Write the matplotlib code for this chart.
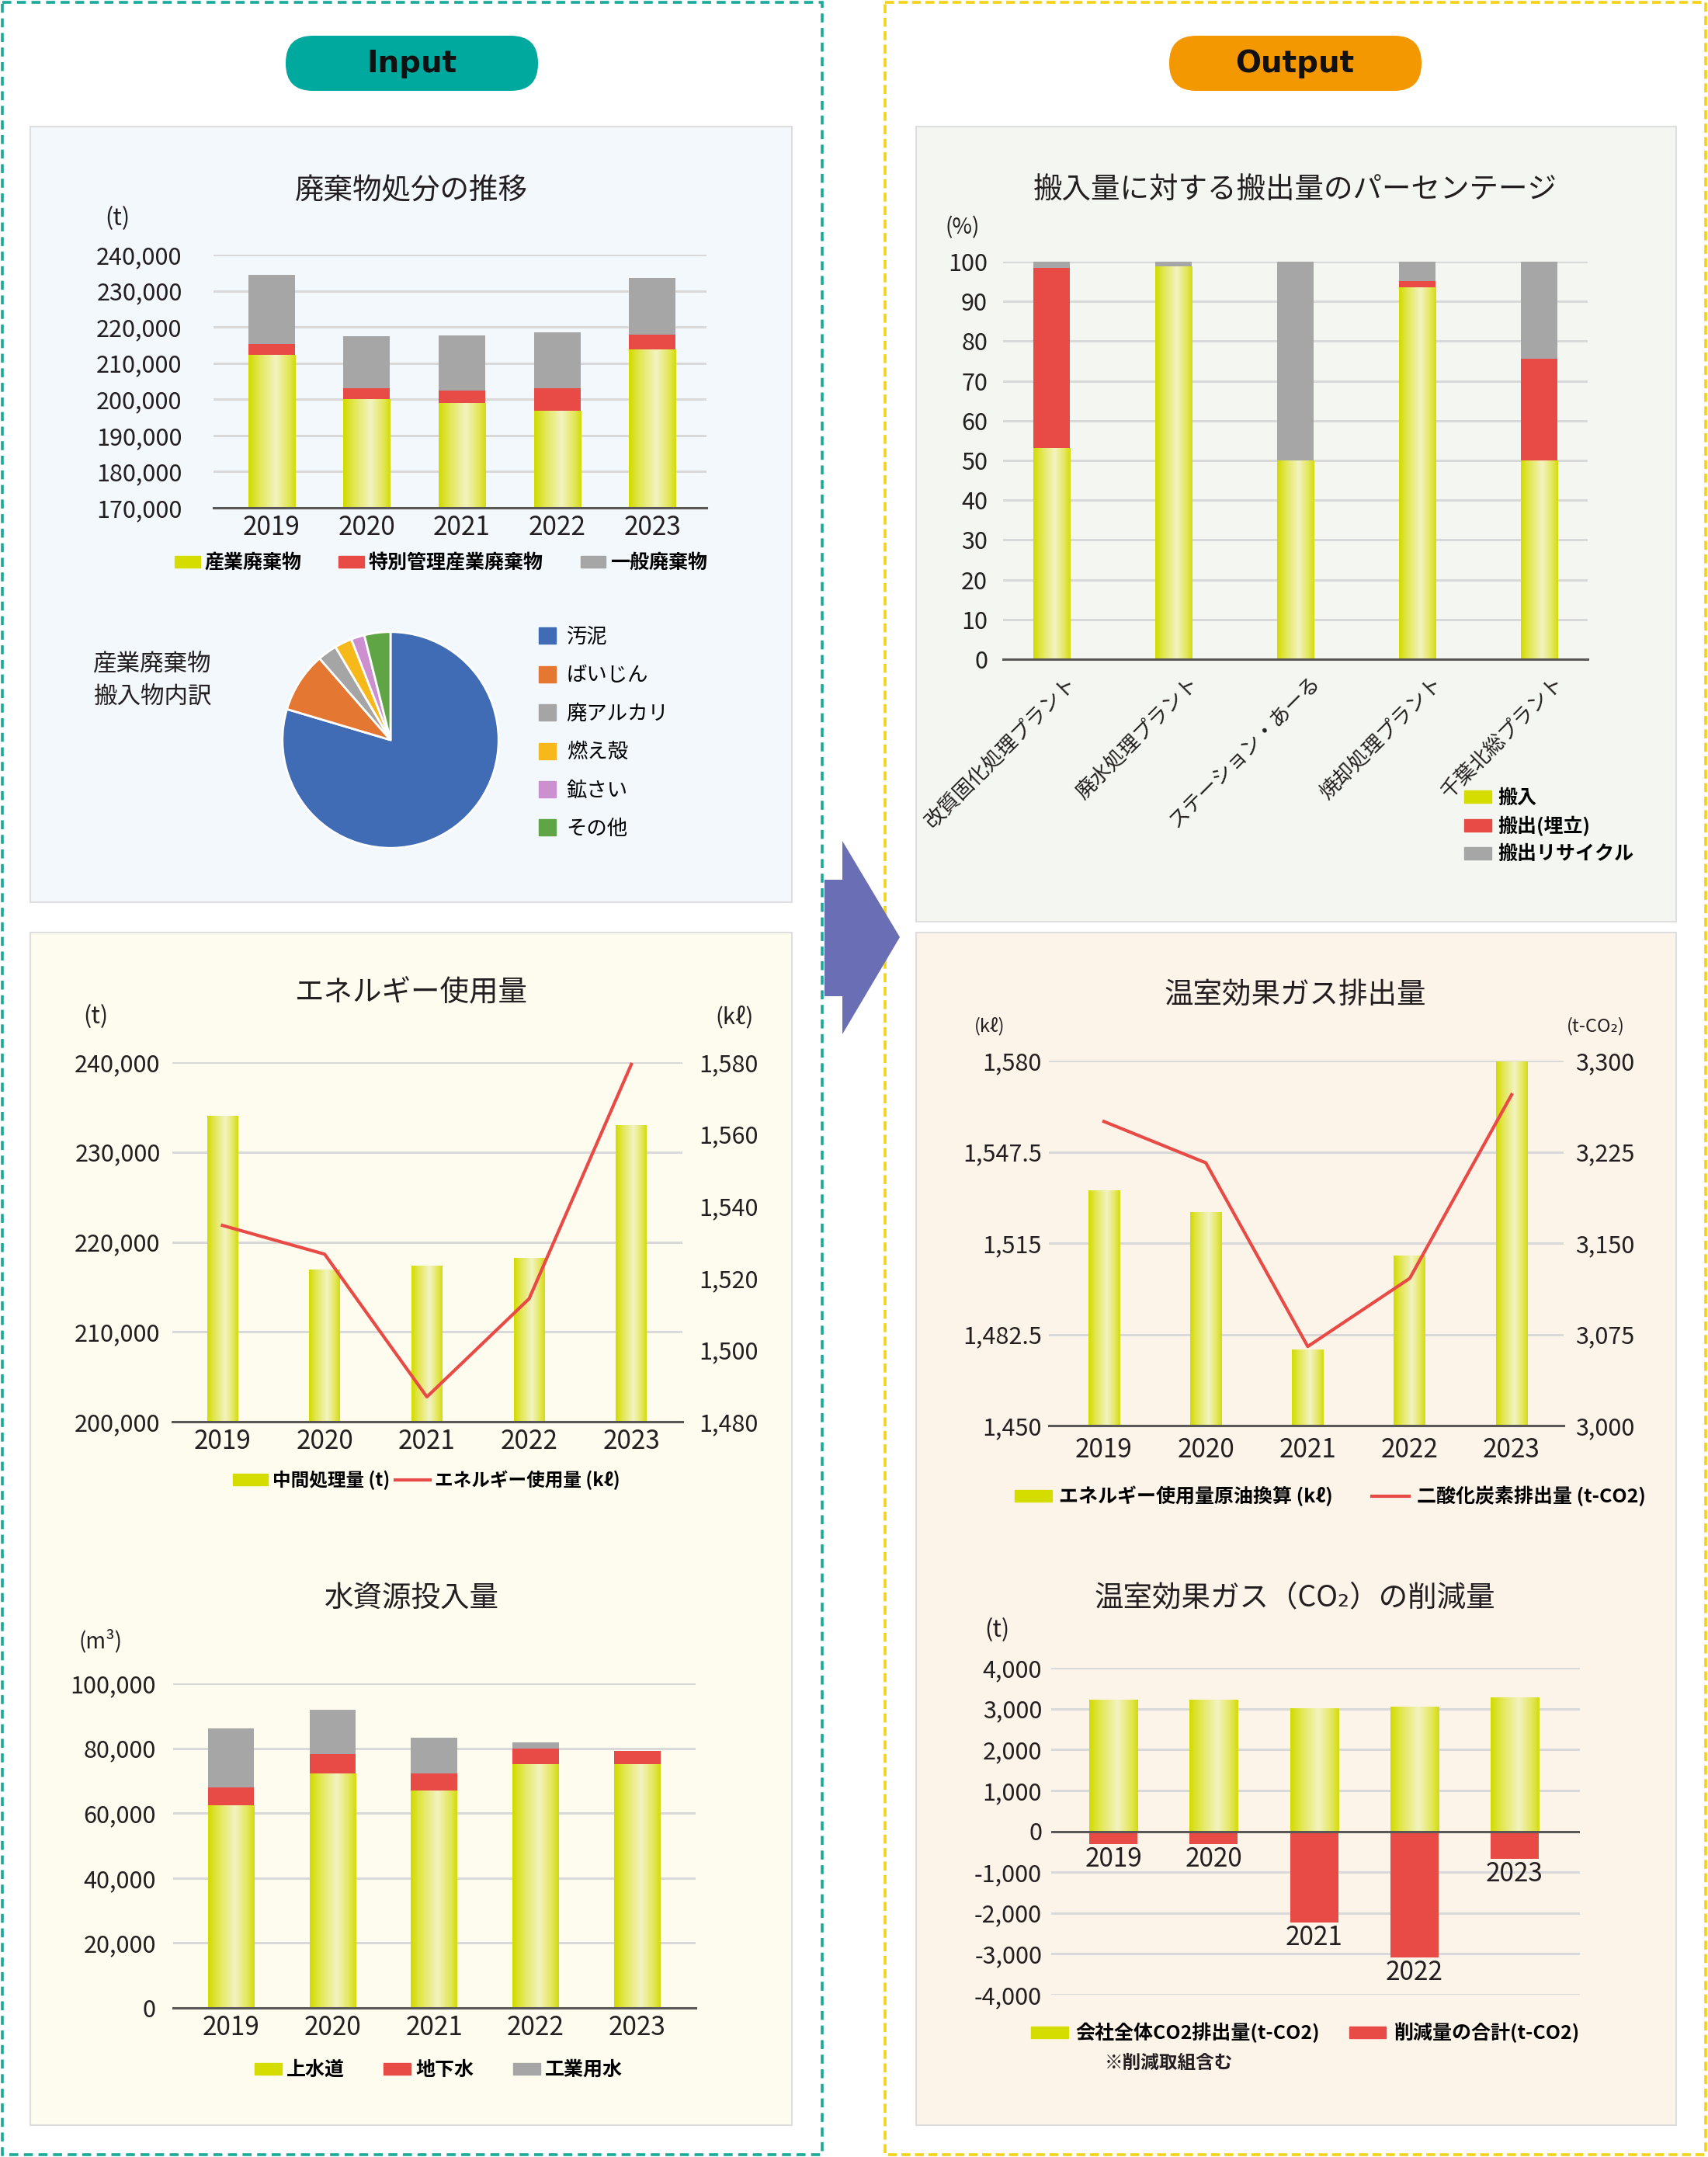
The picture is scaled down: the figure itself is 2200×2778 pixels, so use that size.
import numpy as np
import matplotlib
matplotlib.use('Agg')
import matplotlib.pyplot as plt
from matplotlib.patches import Rectangle, FancyBboxPatch, Polygon, Patch
from matplotlib.lines import Line2D
from matplotlib.colors import LinearSegmentedColormap
import matplotlib.transforms as mtransforms

plt.rcParams['font.family'] = ['Noto Sans CJK JP', 'DejaVu Sans']
plt.rcParams['axes.unicode_minus'] = False

# ---------------- data ----------------
years = ['2019', '2020', '2021', '2022', '2023']

# 廃棄物処分の推移 (t)
waste_industrial = [212100, 200000, 198800, 196800, 213800]
waste_special = [3300, 3100, 3700, 6300, 4000]
waste_general = [19100, 14300, 15200, 15400, 15700]
waste_ticks = [170000, 180000, 190000, 200000, 210000, 220000, 230000, 240000]
waste_names = ['産業廃棄物', '特別管理産業廃棄物', '一般廃棄物']

# 産業廃棄物 搬入物内訳 (%)
pie_labels = ['汚泥', 'ばいじん', '廃アルカリ', '燃え殻', '鉱さい', 'その他']
pie_values = [79.6, 9.0, 2.9, 2.6, 2.0, 3.9]
pie_colors = ['#3f6cb4', '#e47731', '#a5a5a5', '#f6b919', '#cc8fcf', '#5fa545']

# エネルギー使用量
energy_processed = [234000, 216900, 217300, 218200, 233000]   # t
energy_use = [1534.6, 1526.6, 1486.9, 1514.2, 1579.4]          # kl
energy_ticks_t = [200000, 210000, 220000, 230000, 240000]
energy_ticks_kl = [1480, 1500, 1520, 1540, 1560, 1580]

# 水資源投入量 (m3)
water_city = [62400, 72100, 66800, 75100, 75000]
water_ground = [5500, 6100, 5500, 4800, 4200]
water_industrial = [18200, 13600, 11000, 1900, 0]
water_ticks = [0, 20000, 40000, 60000, 80000, 100000]
water_names = ['上水道', '地下水', '工業用水']

# 搬入量に対する搬出量のパーセンテージ (%)
plants = ['改質固化処理プラント', '廃水処理プラント', 'ステーション・あーる',
          '焼却処理プラント', '千葉北総プラント']
pct_in = [53.0, 98.8, 50.0, 93.4, 50.0]
pct_landfill = [45.4, 0.0, 0.0, 1.7, 25.5]
pct_recycle = [1.6, 1.2, 50.0, 4.9, 24.5]
pct_ticks = [0, 10, 20, 30, 40, 50, 60, 70, 80, 90, 100]
pct_names = ['搬入', '搬出(埋立)', '搬出リサイクル']

# 温室効果ガス排出量
ghg_energy = [1533.6, 1525.8, 1476.9, 1510.4, 1579.6]   # kl
ghg_co2 = [3250, 3216, 3065, 3121, 3272]                 # t-CO2
ghg_ticks_kl = [1450, 1482.5, 1515, 1547.5, 1580]
ghg_ticks_co2 = [3000, 3075, 3150, 3225, 3300]

# 温室効果ガス(CO2)の削減量 (t)
co2_total = [3210, 3210, 2990, 3030, 3250]
co2_reduction = [-320, -320, -2240, -3080, -680]
co2_ticks = [-4000, -3000, -2000, -1000, 0, 1000, 2000, 3000, 4000]

# ---------------- style ----------------
W, H = 2200, 2778
YEL = '#d4dc00'
RED = '#e84a46'
GRY = '#a6a6a6'
TXT = '#231f20'
GRID = '#d9d9d9'
BASE = '#5a5757'

GRAD_CMAP = LinearSegmentedColormap.from_list(
    'bar', [(0, '#d2db00'), (0.2, '#e1e64a'), (0.58, '#f3f3c2'),
            (0.85, '#e3e75a'), (1, '#d4dc10')])
GRAD = GRAD_CMAP(np.linspace(0, 1, 64))[None, :, :]

fig = plt.figure(figsize=(W / 100, H / 100), dpi=100)


def px_axes(x0, y0, x1, y1, **kw):
    return fig.add_axes([x0 / W, 1 - y1 / H, (x1 - x0) / W, (y1 - y0) / H], **kw)


def ptext(x, y, s, **kw):
    return fig.text(x / W, 1 - y / H, s, **kw)


def shade(ax, bars):
    # gradient fill like the original glossy yellow bars
    for p in bars:
        h = p.get_height()
        if h == 0:
            continue
        x, y, w = p.get_x(), p.get_y(), p.get_width()
        ax.imshow(GRAD, extent=(x, x + w, y, y + h), aspect='auto',
                  zorder=2.1, interpolation='bilinear')


def style_axes(ax, ticks, labels, ypad, xpad=6, ysize=22):
    ax.set_facecolor('none')
    for s in ['left', 'right', 'top']:
        ax.spines[s].set_visible(False)
    ax.spines['bottom'].set_color(BASE)
    ax.spines['bottom'].set_linewidth(2.2)
    ax.spines['bottom'].set_zorder(3)
    ax.set_yticks(ticks, labels)
    ax.yaxis.grid(True, color=GRID, linewidth=2.2)
    ax.set_axisbelow(True)
    ax.tick_params(axis='y', length=0, pad=ypad, labelsize=ysize, labelcolor=TXT)
    ax.tick_params(axis='x', length=0, pad=xpad, labelsize=24, labelcolor=TXT)


def legend_at(ax, handles, labels, x, y, size, **kw):
    return ax.legend(handles, labels, loc='center left',
                     bbox_to_anchor=(x / W, 1 - y / H), bbox_transform=fig.transFigure,
                     frameon=False, borderpad=0, borderaxespad=0,
                     prop={'size': size, 'weight': 'bold'}, **kw)


def fmt(v):
    return f'{v:,.1f}'.rstrip('0').rstrip('.')


# ---------------- background ----------------
bg = fig.add_axes([0, 0, 1, 1])
bg.set_xlim(0, W)
bg.set_ylim(H, 0)
bg.axis('off')

bg.add_patch(Rectangle((3, 3), 1056, 2772, fill=False, edgecolor='#1aa99b',
                       linewidth=2.6, linestyle=(0, (3.2, 2.0))))
bg.add_patch(Rectangle((1140, 3), 1057, 2772, fill=False, edgecolor='#f4d21a',
                       linewidth=2.6, linestyle=(0, (3.2, 1.6))))

# panels
for (x0, y0, x1, y1, c) in [(39, 163, 1020, 1162, '#f3f8fc'),
                            (39, 1201, 1020, 2737, '#fdfcef'),
                            (1180, 163, 2159, 1187, '#f4f7f1'),
                            (1180, 1201, 2159, 2737, '#fdf4e9')]:
    bg.add_patch(Rectangle((x0, y0), x1 - x0, y1 - y0, facecolor=c,
                           edgecolor='#dedede', linewidth=1.5))

# pills
bg.add_patch(FancyBboxPatch((368, 46), 325, 71,
                            boxstyle='round,pad=0,rounding_size=35',
                            facecolor='#00a99d', edgecolor='none'))
bg.add_patch(FancyBboxPatch((1506, 46), 325, 71,
                            boxstyle='round,pad=0,rounding_size=35',
                            facecolor='#f39800', edgecolor='none'))
bg.text(530, 82, 'Input', ha='center', va='center', fontsize=28,
        fontweight='bold', color='#111111', family='DejaVu Sans')
bg.text(1668, 82, 'Output', ha='center', va='center', fontsize=28,
        fontweight='bold', color='#111111', family='DejaVu Sans')

# arrow
bg.add_patch(Polygon([(1062, 1133), (1085, 1133), (1085, 1083), (1159, 1207),
                      (1085, 1332), (1085, 1283), (1062, 1283)],
                     closed=True, facecolor='#6a6fb5', edgecolor='none'))

x = np.arange(len(years))

# ---------------- 廃棄物処分の推移 ----------------
ptext(530, 246, '廃棄物処分の推移', ha='center', va='center', fontsize=27, color=TXT)
ptext(151, 282, '(t)', ha='center', va='center', fontsize=22, color=TXT)
ax1 = px_axes(275, 328, 910, 654)
bw = 0.49
b1 = ax1.bar(x, waste_industrial, bw, color=YEL, zorder=2)
b2 = ax1.bar(x, waste_special, bw, bottom=waste_industrial, color=RED, zorder=2)
bot = np.array(waste_industrial) + np.array(waste_special)
b3 = ax1.bar(x, waste_general, bw, bottom=bot, color=GRY, zorder=2)
shade(ax1, b1)
style_axes(ax1, waste_ticks, [f'{v:,}' for v in waste_ticks], ypad=29)
ax1.set_xticks(x, years)
ax1.set_xlim(-0.61, 4.57)
ax1.set_ylim(170000, 240000)
legend_at(ax1, [Patch(color=YEL), Patch(color=RED), Patch(color=GRY)], waste_names,
          225, 725, 18, ncol=3, handlelength=1.3, handleheight=0.55,
          handletextpad=0.25, columnspacing=1.9)

# pie
axp = px_axes(361, 811, 645, 1095)
axp.pie(pie_values, colors=pie_colors, startangle=90, counterclock=False,
        wedgeprops=dict(edgecolor='white', linewidth=2))
axp.set_xlim(-1.02, 1.02)
axp.set_ylim(-1.02, 1.02)
ptext(120, 876, '産業廃棄物\n搬入物内訳', ha='left', va='center', fontsize=22,
      color=TXT, linespacing=1.45)
axp.legend([Patch(color=c) for c in pie_colors], pie_labels, loc='center left',
           bbox_to_anchor=(694 / W, 1 - 944 / H), bbox_transform=fig.transFigure,
           frameon=False, borderpad=0, borderaxespad=0, prop={'size': 19},
           handlelength=0.85, handleheight=0.85, handletextpad=0.5, labelspacing=0.85)

# ---------------- エネルギー使用量 ----------------
ptext(530, 1279, 'エネルギー使用量', ha='center', va='center', fontsize=27, color=TXT)
ptext(123, 1310, '(t)', ha='center', va='center', fontsize=22, color=TXT)
ptext(946, 1310, '(kℓ)', ha='center', va='center', fontsize=21, color=TXT)
ax2 = px_axes(222, 1368, 879, 1831)
b = ax2.bar(x, energy_processed, 0.30, color=YEL, zorder=2)
shade(ax2, b)
style_axes(ax2, energy_ticks_t, [f'{v:,}' for v in energy_ticks_t], ypad=11)
ax2.set_xticks(x, years)
ax2.set_xlim(-0.49, 4.5)
ax2.set_ylim(200000, 240000)
ax2r = ax2.twinx()
ax2r.plot(x, energy_use, color=RED, linewidth=3, zorder=4)
for s in ax2r.spines.values():
    s.set_visible(False)
ax2r.set_ylim(1480, 1580)
ax2r.set_yticks(energy_ticks_kl, [f'{v:,}' for v in energy_ticks_kl])
ax2r.tick_params(axis='y', length=0, pad=15, labelsize=22, labelcolor=TXT)
legend_at(ax2r, [Patch(color=YEL), Line2D([], [], color=RED, lw=3)],
          ['中間処理量 (t)', 'エネルギー使用量 (kℓ)'], 300, 1906, 17, ncol=2,
          handlelength=1.9, handleheight=0.6, handletextpad=0.25, columnspacing=0.3)

# ---------------- 水資源投入量 ----------------
ptext(530, 2058, '水資源投入量', ha='center', va='center', fontsize=27, color=TXT)
ptext(130, 2114, '(m³)', ha='center', va='center', fontsize=20, color=TXT)
ax6 = px_axes(223, 2168, 896, 2586)
bw = 0.456
b1 = ax6.bar(x, water_city, bw, color=YEL, zorder=2)
ax6.bar(x, water_ground, bw, bottom=water_city, color=RED, zorder=2)
bot = np.array(water_city) + np.array(water_ground)
ax6.bar(x, water_industrial, bw, bottom=bot, color=GRY, zorder=2)
shade(ax6, b1)
style_axes(ax6, water_ticks, [f'{v:,}' for v in water_ticks], ypad=16)
ax6.set_xticks(x, years)
ax6.set_xlim(-0.57, 4.575)
ax6.set_ylim(0, 100000)
legend_at(ax6, [Patch(color=YEL), Patch(color=RED), Patch(color=GRY)], water_names,
          328, 2666, 18, ncol=3, handlelength=1.4, handleheight=0.55,
          handletextpad=0.25, columnspacing=2.0)

# ---------------- 搬入量に対する搬出量のパーセンテージ ----------------
ptext(1668, 244, '搬入量に対する搬出量のパーセンテージ', ha='center', va='center',
      fontsize=27, color=TXT)
ptext(1240, 293, '(%)', ha='center', va='center', fontsize=20, color=TXT)
ax3 = px_axes(1291.5, 337, 2045, 849)
bw = 0.30
b1 = ax3.bar(x, pct_in, bw, color=YEL, zorder=2)
ax3.bar(x, pct_landfill, bw, bottom=pct_in, color=RED, zorder=2)
bot = np.array(pct_in) + np.array(pct_landfill)
ax3.bar(x, pct_recycle, bw, bottom=bot, color=GRY, zorder=2)
shade(ax3, b1)
style_axes(ax3, pct_ticks, [str(v) for v in pct_ticks], ypad=14)
ax3.set_xticks(x, plants, rotation=45, ha='right', va='top', rotation_mode='anchor',
               fontsize=19)
ax3.tick_params(axis='x', pad=12)
off = mtransforms.ScaledTranslation(0.18, 0, fig.dpi_scale_trans)
for lab in ax3.get_xticklabels():
    lab.set_transform(lab.get_transform() + off)
ax3.set_xlim(-0.40, 4.40)
ax3.set_ylim(0, 100)
ax3.legend([Patch(color=YEL), Patch(color=RED), Patch(color=GRY)], pct_names,
           loc='center left', bbox_to_anchor=(1886 / W, 1 - 1064 / H),
           bbox_transform=fig.transFigure, frameon=False, borderpad=0, borderaxespad=0,
           prop={'size': 18, 'weight': 'bold'}, handlelength=1.4, handleheight=0.6,
           handletextpad=0.35, labelspacing=0.45)

# ---------------- 温室効果ガス排出量 ----------------
ptext(1668, 1281, '温室効果ガス排出量', ha='center', va='center', fontsize=27, color=TXT)
ptext(1275, 1322, '(kℓ)', ha='center', va='center', fontsize=17, color=TXT)
ptext(2055, 1322, '(t-CO₂)', ha='center', va='center', fontsize=17, color=TXT)
ax4 = px_axes(1351, 1366, 2014, 1836)
b = ax4.bar(x, ghg_energy, 0.31, color=YEL, zorder=2)
shade(ax4, b)
style_axes(ax4, ghg_ticks_kl, [fmt(v) for v in ghg_ticks_kl], ypad=6.5, xpad=10)
ax4.set_xticks(x, years)
ax4.set_xlim(-0.54, 4.51)
ax4.set_ylim(1450, 1580)
ax4r = ax4.twinx()
ax4r.plot(x, ghg_co2, color=RED, linewidth=3, zorder=4)
for s in ax4r.spines.values():
    s.set_visible(False)
ax4r.set_ylim(3000, 3300)
ax4r.set_yticks(ghg_ticks_co2, [f'{v:,}' for v in ghg_ticks_co2])
ax4r.tick_params(axis='y', length=0, pad=11, labelsize=22, labelcolor=TXT)
legend_at(ax4r, [Patch(color=YEL), Line2D([], [], color=RED, lw=3)],
          ['エネルギー使用量原油換算 (kℓ)', '二酸化炭素排出量 (t-CO2)'], 1307, 1927, 18,
          ncol=2, handlelength=1.9, handleheight=0.6, handletextpad=0.4, columnspacing=2.0)

# ---------------- 温室効果ガス(CO2)の削減量 ----------------
ptext(1668, 2058, '温室効果ガス（CO₂）の削減量', ha='center', va='center', fontsize=27,
      color=TXT)
ptext(1284, 2100, '(t)', ha='center', va='center', fontsize=22, color=TXT)
ax5 = px_axes(1354, 2148, 2035, 2569)
bw = 0.48
b1 = ax5.bar(x, co2_total, bw, color=YEL, zorder=2)
ax5.bar(x, co2_reduction, bw, color=RED, zorder=2)
shade(ax5, b1)
style_axes(ax5, co2_ticks, [f'{v:,}' for v in co2_ticks], ypad=8.5)
ax5.spines['bottom'].set_visible(False)
ax5.axhline(0, color=BASE, linewidth=2.2, zorder=3)
ax5.set_xticks([])
down = mtransforms.ScaledTranslation(0, -0.02, fig.dpi_scale_trans)
for i, v in enumerate(co2_reduction):
    ax5.text(i, v, years[i], ha='center', va='top', fontsize=24, color=TXT,
             transform=ax5.transData + down, zorder=5)
ax5.set_xlim(-0.62, 4.65)
ax5.set_ylim(-4000, 4000)
legend_at(ax5, [Patch(color=YEL), Patch(color=RED)],
          ['会社全体CO2排出量(t-CO2)', '削減量の合計(t-CO2)'], 1328, 2618, 18,
          ncol=2, handlelength=1.9, handleheight=0.6, handletextpad=0.4, columnspacing=1.5)
ptext(1423, 2657, '※削減取組含む', ha='left', va='center', fontsize=17,
      fontweight='bold', color=TXT)

fig.savefig('out.png', dpi=100)
